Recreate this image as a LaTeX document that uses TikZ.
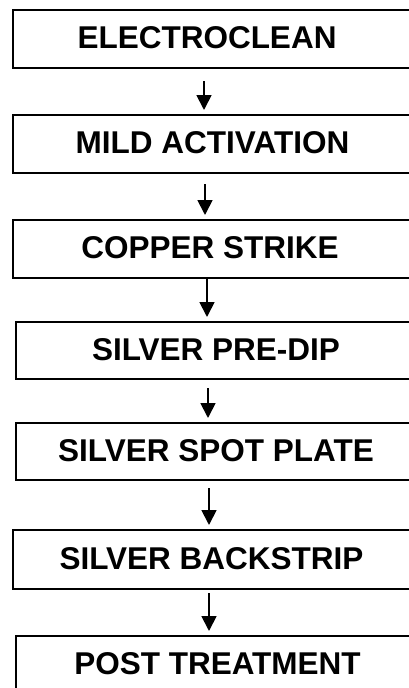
\documentclass[tikz,border=0pt]{standalone}
\usepackage{fontspec}
\setmainfont{Liberation Sans}
\usetikzlibrary{arrows.meta}
\begin{document}
\begin{tikzpicture}[x=1pt,y=1pt,
  stagebox/.style={draw=black,line width=2pt,rectangle,minimum width=430pt,
    minimum height=58pt,anchor=north west,inner sep=0pt},
  stagetext/.style={font=\fontsize{31.5}{36}\selectfont\bfseries,inner sep=0pt},
  flow/.style={line width=1.8pt,-{Triangle[length=15pt,width=15pt]}}]
\useasboundingbox (0,0) rectangle (409,-688);
\clip (0,0) rectangle (409,-688);
\fill[white] (0,0) rectangle (409,-688);

% process stages
\node[stagebox] (b1) at (12,-9) {};
\node[stagebox] (b2) at (12,-114) {};
\node[stagebox] (b3) at (12,-219) {};
\node[stagebox,minimum height=57pt] (b4) at (15,-321) {};
\node[stagebox,minimum height=57pt] (b5) at (15,-422) {};
\node[stagebox,minimum height=59pt] (b6) at (12,-529) {};
\node[stagebox] (b7) at (15,-635) {};

\node[stagetext] (t1) at (207,-38) {ELECTROCLEAN};
\node[stagetext] (t2) at (212.5,-143) {MILD ACTIVATION};
\node[stagetext] (t3) at (210,-248) {COPPER STRIKE};
\node[stagetext] (t4) at (216,-349.5) {SILVER PRE-DIP};
\node[stagetext] (t5) at (216,-450.5) {SILVER SPOT PLATE};
\node[stagetext] (t6) at (211.5,-558.5) {SILVER BACKSTRIP};
\node[stagetext] (t7) at (217.5,-664) {POST TREATMENT};

% start points of the connectors, just below each stage
\coordinate (s1) at ([shift={(192,-12)}]b1.south west);
\coordinate (s2) at ([shift={(193,-10)}]b2.south west);
\coordinate (s3) at ([shift={(195,0)}]b3.south west);
\coordinate (s4) at ([shift={(193,-8)}]b4.south west);
\coordinate (s5) at ([shift={(194,-7)}]b5.south west);
\coordinate (s6) at ([shift={(197,-3)}]b6.south west);

% connectors between stages
\draw[flow] (s1) -- ([yshift=4pt]s1 |- b2.north);
\draw[flow] (s2) -- ([yshift=4pt]s2 |- b3.north);
\draw[flow] (s3) -- ([yshift=4pt]s3 |- b4.north);
\draw[flow] (s4) -- ([yshift=4pt]s4 |- b5.north);
\draw[flow] (s5) -- ([yshift=4pt]s5 |- b6.north);
\draw[flow] (s6) -- ([yshift=4pt]s6 |- b7.north);
\end{tikzpicture}
\end{document}
